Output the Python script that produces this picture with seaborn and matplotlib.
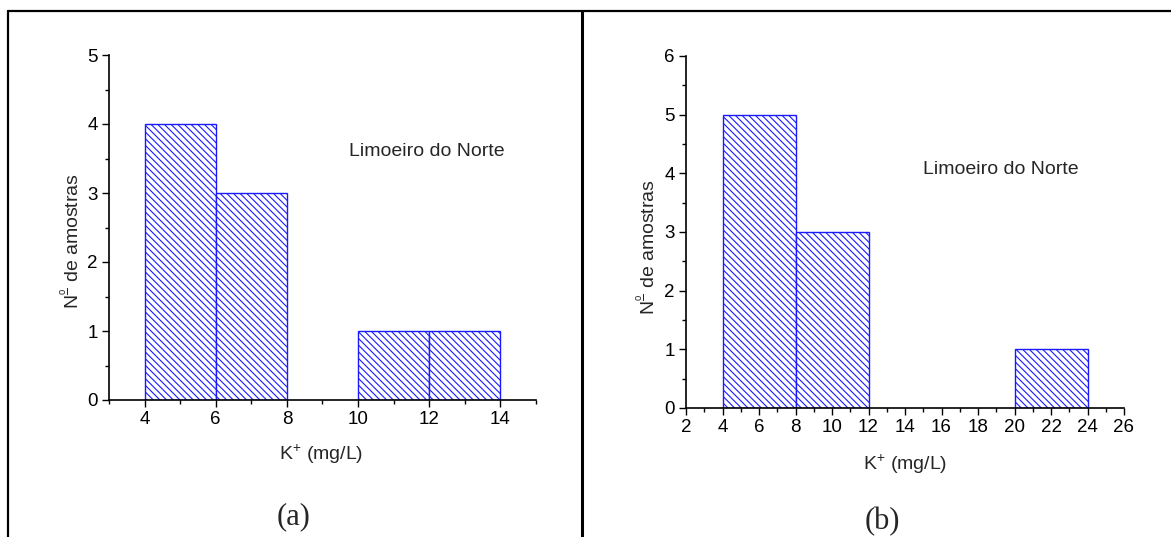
import matplotlib
matplotlib.use("Agg")
import matplotlib.pyplot as plt
from matplotlib.lines import Line2D
from matplotlib.ticker import MultipleLocator
import seaborn as sns
import numpy as np

# Data
bins_a = [4, 6, 8, 10, 12, 14]
counts_a = [4, 3, 0, 1, 1]
bins_b = [4, 8, 12, 16, 20, 24]
counts_b = [5, 3, 0, 0, 1]

xlabel = "K$^{+}$ (mg/L)"
ylabel = "N$^{\\frac{o}{\\,}}$ de amostras"
site = "Limoeiro do Norte"

sns.set_style("white")
plt.rcParams['font.family'] = ['Liberation Sans', 'DejaVu Sans']
plt.rcParams['mathtext.fontset'] = 'custom'
plt.rcParams['mathtext.rm'] = 'Liberation Sans'
plt.rcParams['mathtext.it'] = 'Liberation Sans:italic'
plt.rcParams['mathtext.bf'] = 'Liberation Sans:bold'
plt.rcParams['mathtext.default'] = 'rm'
plt.rcParams['hatch.color'] = '#1a1aff'
plt.rcParams['hatch.linewidth'] = 0.8

W, H = 1171, 537
fig = plt.figure(figsize=(W / 100, H / 100), dpi=100)

def px_axes(x0, y0, x1, y1):
    return fig.add_axes([x0 / W, 1 - y1 / H, (x1 - x0) / W, (y1 - y0) / H])

ax_a = px_axes(109, 55, 536, 400)
ax_b = px_axes(686, 56, 1124, 408)

def draw(ax, bins, counts, xlim, ylim, xmaj, xmin):
    centers = [(bins[i] + bins[i + 1]) / 2 for i in range(len(counts))]
    sns.histplot(x=centers, weights=counts, bins=bins, ax=ax,
                 stat="count", element="bars", fill=True,
                 facecolor="white", edgecolor="#1a1aff", linewidth=1.0,
                 hatch="\\\\\\\\\\", alpha=1.0)
    for p in ax.patches:
        p.set_hatch("\\\\\\\\\\")
        p.set_facecolor("white")
        p.set_edgecolor("#1a1aff")
        if p.get_height() == 0:
            p.set_visible(False)
    ax.set_xlim(*xlim)
    ax.set_ylim(*ylim)
    ax.xaxis.set_major_locator(MultipleLocator(xmaj))
    ax.xaxis.set_minor_locator(MultipleLocator(xmin))
    ax.yaxis.set_major_locator(MultipleLocator(1))
    ax.yaxis.set_minor_locator(MultipleLocator(0.5))
    for s in ["top", "right"]:
        ax.spines[s].set_visible(False)
    for s in ["left", "bottom"]:
        ax.spines[s].set_color("black")
        ax.spines[s].set_linewidth(1.2)
        ax.spines[s].set_zorder(5)
    ax.tick_params(which="major", direction="out", length=5, width=1.0,
                   labelsize=13.5, pad=3, bottom=True, left=True, colors="black")
    ax.tick_params(which="minor", direction="out", length=3, width=1.0,
                   bottom=True, left=True, colors="black")
    ax.set_xlabel("")
    ax.set_ylabel("")

draw(ax_a, bins_a, counts_a, (3, 15), (0, 5), 2, 1)
draw(ax_b, bins_b, counts_b, (2, 26), (0, 6), 2, 1)
ax_a.set_xticks([4, 6, 8, 10, 12, 14])

# labels in pixel positions
def ftext(x, y, s, **kw):
    fig.text(x / W, 1 - y / H, s, **kw)

ftext(321, 454, xlabel, ha="center", va="center", fontsize=14)
ftext(905, 464, xlabel, ha="center", va="center", fontsize=14)
ftext(71, 241, ylabel, ha="center", va="center", fontsize=14, rotation=90)
ftext(647, 247, ylabel, ha="center", va="center", fontsize=14, rotation=90)
ftext(427, 151, site, ha="center", va="center", fontsize=14)
ftext(1001, 169, site, ha="center", va="center", fontsize=14)
ftext(294, 517, "(a)", ha="center", va="center", fontsize=22,
      family=["Liberation Serif", "DejaVu Serif"])
ftext(882, 522, "(b)", ha="center", va="center", fontsize=22,
      family=["Liberation Serif", "DejaVu Serif"])

# frame lines
def fline(xs, ys, lw=1.6):
    fig.add_artist(Line2D([x / W for x in xs], [1 - y / H for y in ys],
                          color="black", linewidth=lw))

fline([7.5, W], [10.5, 10.5])
fline([7.5, 7.5], [10.5, H])
fline([582, 582], [10.5, H], lw=2.2)

fig.savefig("out.png", dpi=100)
